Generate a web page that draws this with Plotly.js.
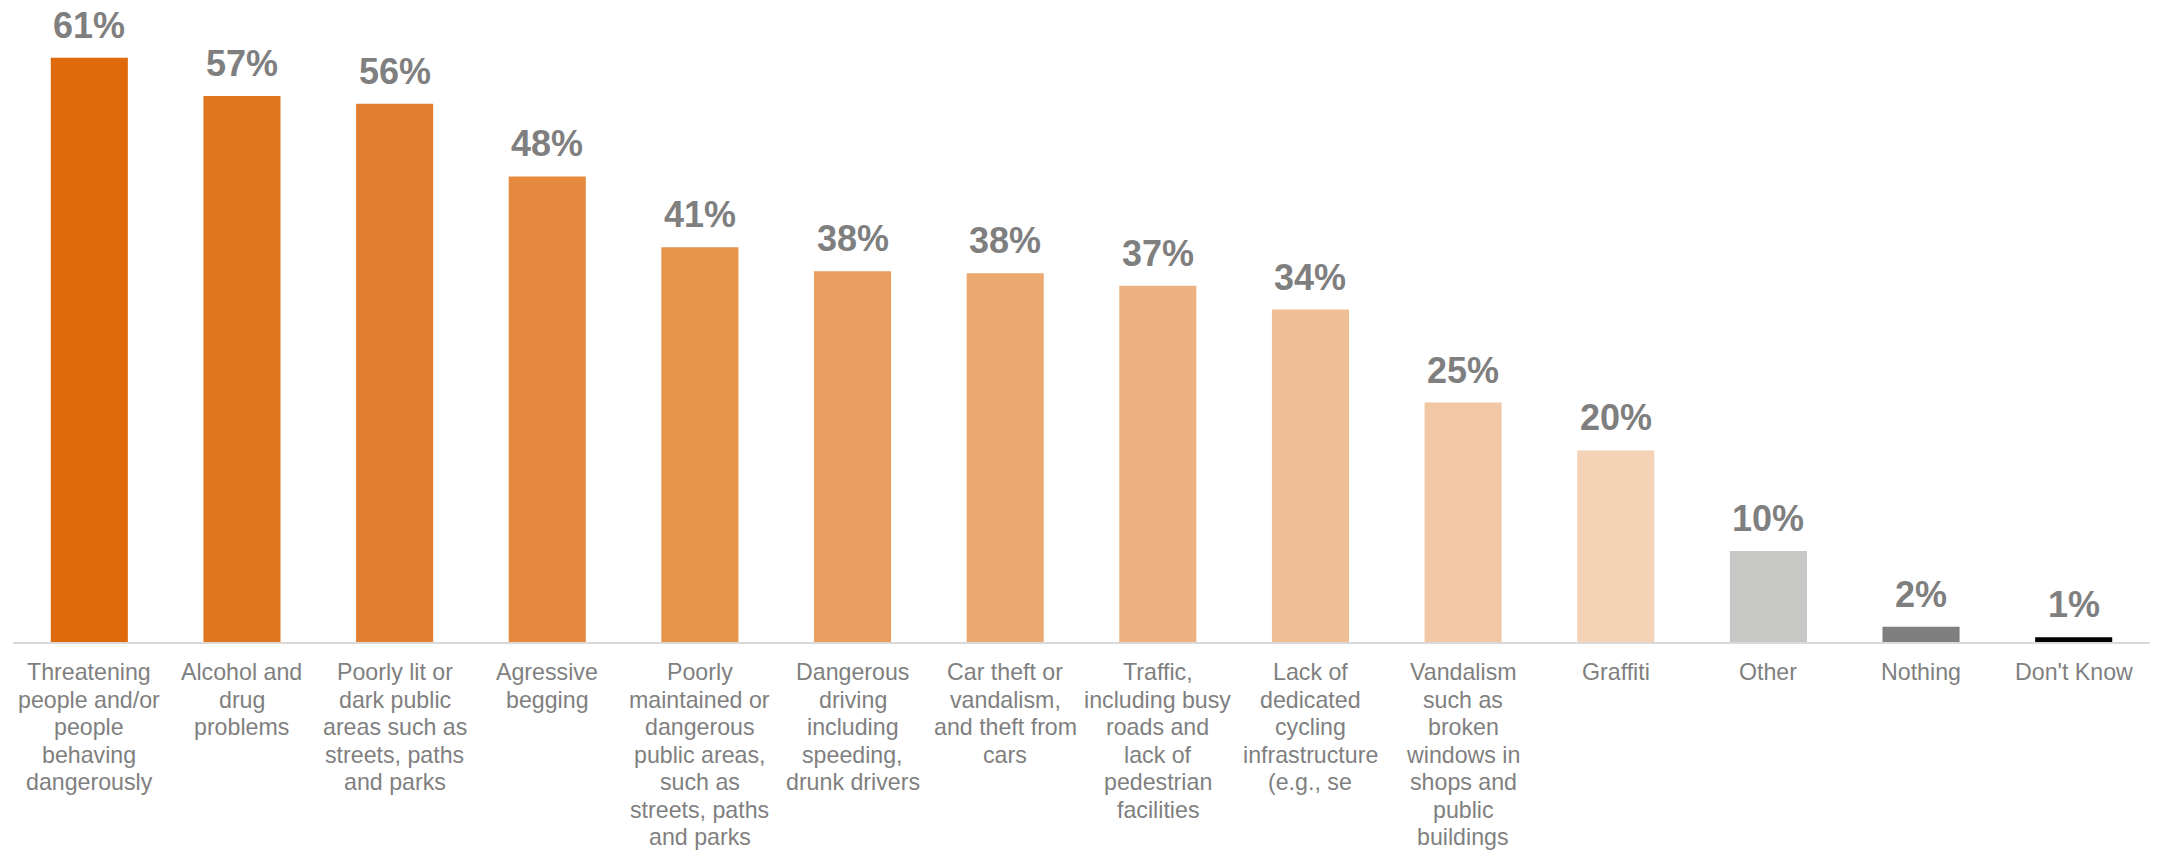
<!DOCTYPE html>
<html>
<head>
<meta charset="utf-8">
<script src="https://cdn.plot.ly/plotly-3.0.1.min.js"></script>
<style>html,body{margin:0;padding:0;background:#fff;}#chart{width:2158px;height:851px;}</style>
</head>
<body>
<div id="chart"></div>
<script>
const categories = [
  "Threatening people and/or people behaving dangerously",
  "Alcohol and drug problems",
  "Poorly lit or dark public areas such as streets, paths and parks",
  "Agressive begging",
  "Poorly maintained or dangerous public areas, such as streets, paths and parks",
  "Dangerous driving including speeding, drunk drivers",
  "Car theft or vandalism, and theft from cars",
  "Traffic, including busy roads and lack of pedestrian facilities",
  "Lack of dedicated cycling infrastructure (e.g., se",
  "Vandalism such as broken windows in shops and public buildings",
  "Graffiti",
  "Other",
  "Nothing",
  "Don't Know"
];
const tickLabels = [
  "Threatening<br>people and/or<br>people<br>behaving<br>dangerously",
  "Alcohol and<br>drug<br>problems",
  "Poorly lit or<br>dark public<br>areas such as<br>streets, paths<br>and parks",
  "Agressive<br>begging",
  "Poorly<br>maintained or<br>dangerous<br>public areas,<br>such as<br>streets, paths<br>and parks",
  "Dangerous<br>driving<br>including<br>speeding,<br>drunk drivers",
  "Car theft or<br>vandalism,<br>and theft from<br>cars",
  "Traffic,<br>including busy<br>roads and<br>lack of<br>pedestrian<br>facilities",
  "Lack of<br>dedicated<br>cycling<br>infrastructure<br>(e.g., se",
  "Vandalism<br>such as<br>broken<br>windows in<br>shops and<br>public<br>buildings",
  "Graffiti",
  "Other",
  "Nothing",
  "Don't Know"
];
const values = [61, 57, 56.2, 48.6, 41.2, 38.7, 38.5, 37.2, 34.7, 25, 20, 9.5, 1.6, 0.5];
const valueLabels = ["61%", "57%", "56%", "48%", "41%", "38%", "38%", "37%", "34%", "25%", "20%", "10%", "2%", "1%"];
const barColors = ["#DF6A0C", "#E17620", "#E27F30", "#E4893E", "#E6934C", "#E99E5F", "#EBA870", "#EEB282", "#F0BE94", "#F2C8A4", "#F4D2B6", "#C7C7C5", "#7F7F7F", "#000000"];

const trace = {
  type: "bar",
  x: categories,
  y: values,
  marker: {color: barColors, line: {width: 0}},
  hoverinfo: "none"
};

const FONT = "Liberation Sans, Arial, sans-serif";
const annotations = [];
categories.forEach((c, i) => {
  annotations.push({
    x: c, y: values[i], xref: "x", yref: "y",
    text: valueLabels[i], showarrow: false,
    yanchor: "bottom", yshift: 10,
    font: {family: FONT, size: 36, color: "#7F7F7F", weight: "bold"}
  });
  tickLabels[i].split("<br>").forEach((line, k) => {
    annotations.push({
      x: c, y: 0, xref: "x", yref: "y",
      text: line, showarrow: false,
      xanchor: "center", yanchor: "middle",
      yshift: -30 - 27.5 * k,
      font: {family: FONT, size: 23.2, color: "#7F7F7F"}
    });
  });
});

const layout = {
  width: 2158, height: 851,
  margin: {l: 13, r: 8, t: 20, b: 209, pad: 0},
  paper_bgcolor: "#ffffff", plot_bgcolor: "#ffffff",
  bargap: 0.495,
  showlegend: false,
  xaxis: {
    type: "category",
    showticklabels: false,
    showline: true, linecolor: "#D9D9D9", linewidth: 2,
    showgrid: false, zeroline: false, ticks: "",
    automargin: false
  },
  yaxis: {
    range: [0, 64.93], visible: false, showgrid: false, zeroline: false, fixedrange: true
  },
  annotations: annotations
};

Plotly.newPlot("chart", [trace], layout, {displayModeBar: false, staticPlot: true});
</script>
</body>
</html>
